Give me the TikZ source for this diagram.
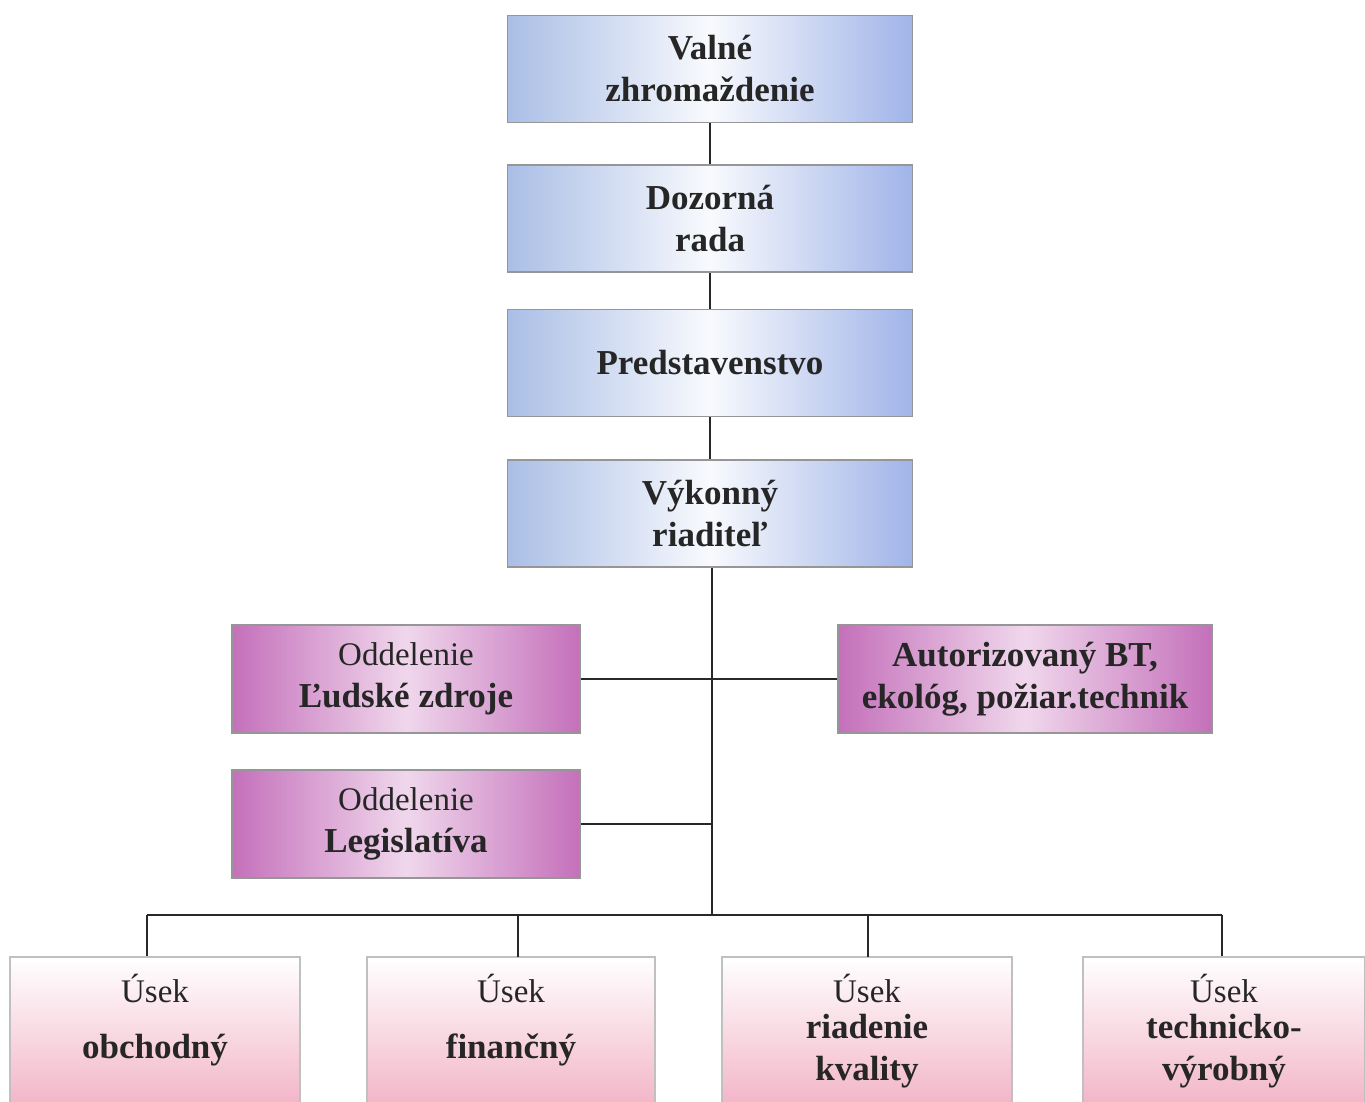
\documentclass[tikz,border=0pt]{standalone}
\usepackage{fontspec}
\setmainfont{Liberation Serif}
\definecolor{boxblue}{RGB}{170,190,230}
\definecolor{boxblueR}{RGB}{160,180,232}
\definecolor{boxpink}{RGB}{196,112,186}
\definecolor{boxpinkM}{RGB}{240,215,236}
\definecolor{boxrose}{RGB}{240,168,190}
\definecolor{boxframe}{RGB}{150,150,150}
\definecolor{inkline}{RGB}{40,40,40}
\begin{document}
\begin{tikzpicture}[x=1pt,y=-1pt,
  base/.style={draw=boxframe,line width=1.6pt,align=center,inner sep=0pt,
    text=black!85,font=\fontsize{35}{42}\selectfont\bfseries},
  bluebox/.style={base,minimum width=405pt,minimum height=107pt,
    left color=boxblue,right color=boxblueR,middle color=white!92!boxblue},
  pinkbox/.style={base,minimum height=108pt,
    left color=boxpink,right color=boxpink,middle color=boxpinkM},
  usekbox/.style={base,minimum width=288pt,minimum height=175pt,
    top color=white,bottom color=boxrose,draw=boxframe!60},
  txt/.style={inner sep=0pt,align=center,text=black!85,font=\fontsize{35}{42}\selectfont\bfseries},
  reg/.style={txt,font=\fontsize{33}{42}\selectfont},
  conn/.style={draw=inkline,line width=1.6pt}]
\useasboundingbox (0,0) rectangle (1365,1102);
\clip (0,0) rectangle (1365,1102);
\fill[white] (0,0) rectangle (1365,1102);

% top chain
\node[bluebox] (vz) at (710,69) {Valné\\zhromaždenie};
\node[bluebox] (dr) at (710,218.5) {Dozorná\\rada};
\node[bluebox] (pr) at (710,363) {Predstavenstvo};
\node[bluebox] (vr) at (710,513.5) {Výkonný\\riaditeľ};

% staff boxes
\node[pinkbox,minimum width=348pt] (lz) at (406,679) {\mdseries\fontsize{33}{42}\selectfont Oddelenie\\Ľudské zdroje};
\node[pinkbox,minimum width=374pt] (ab) at (1025,679) {Autorizovaný BT,\\ekológ, požiar.technik};
\node[pinkbox,minimum width=348pt] (lg) at (406,824) {\mdseries\fontsize{33}{42}\selectfont Oddelenie\\Legislatíva};

% bottom boxes
\node[usekbox,minimum width=290pt] (ob) at (155,1044.5) {};
\node[usekbox,minimum width=288pt] (fi) at (511,1044.5) {};
\node[usekbox,minimum width=290pt] (rk) at (867,1044.5) {};
\node[usekbox,minimum width=282pt] (tv) at (1224,1044.5) {};

\node[reg] (ob1) at (155,988) {Úsek};
\node[txt] (ob2) at (155,1050) {obchodný};
\node[reg] (fi1) at (511,988) {Úsek};
\node[txt] (fi2) at (511,1050) {finančný};
\node[reg] (rk1) at (867,988) {Úsek};
\node[txt] (rk2) at (867,1051) {riadenie\\kvality};
\node[reg] (tv1) at (1224,988) {Úsek};
\node[txt] (tv2) at (1224,1051) {technicko-\\výrobný};

% connectors
\coordinate (bus) at (712,915);
\coordinate (busL) at (147,915);
\coordinate (busR) at (1222,915);
\draw[conn] (vz.south) -- (dr.north);
\draw[conn] (dr.south) -- (pr.north);
\draw[conn] (pr.south) -- (vr.north);
\draw[conn] (vr.south -| bus) -- (bus);
\draw[conn] (lz.east) -- (ab.west);
\draw[conn] (lg.east) -- (lg.east -| bus);
\draw[conn] (busL) -- (busR);
\draw[conn] (busL) -- (busL |- ob.north);
\draw[conn] (518,915) -- (518,957);
\draw[conn] (868,915) -- (868,957);
\draw[conn] (busR) -- (busR |- tv.north);
\end{tikzpicture}
\end{document}
